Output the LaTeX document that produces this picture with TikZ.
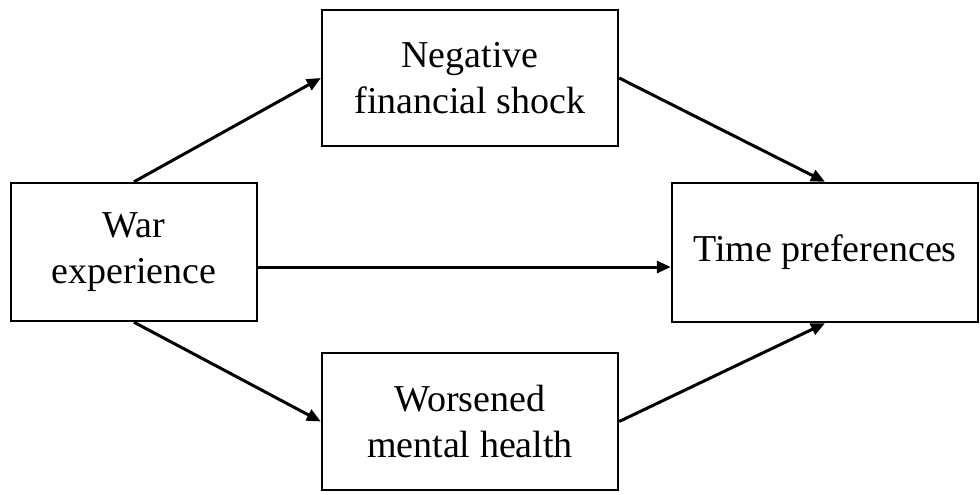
\documentclass[tikz,border=0pt]{standalone}
\usepackage{fontspec}
\setmainfont{Liberation Serif}
\usetikzlibrary{arrows.meta}
\begin{document}
\begin{tikzpicture}[x=0.5pt,y=-0.5pt,
  box/.style={draw=black,line width=1.2pt,fill=white,align=center,inner sep=0pt,
    font=\fontsize{19pt}{23pt}\selectfont},
  arr/.style={line width=1.5pt,-{Triangle[length=7pt,width=6pt]}}]
\useasboundingbox (0,0) rectangle (980,494);
\node[box,minimum width=123pt,minimum height=69pt] (war) at (134,252) {War\\experience};
\node[box,minimum width=148pt,minimum height=68pt] (neg) at (470,78) {Negative\\financial shock};
\node[box,minimum width=148pt,minimum height=68.5pt] (wor) at (470,421.5) {Worsened\\mental health};
\node[box,minimum width=153pt,minimum height=69.5pt] (tim) at (825,252.5) {Time preferences};
\draw[arr] (war.north) -- (neg.west);
\draw[arr] (war.south) -- (wor.west);
\draw[arr] (neg.east) -- (tim.north);
\draw[arr] (wor.east) -- (tim.south);
\draw[arr] ([yshift=-7.5pt]war.east) -- ([yshift=-7.25pt]tim.west);
\end{tikzpicture}
\end{document}
